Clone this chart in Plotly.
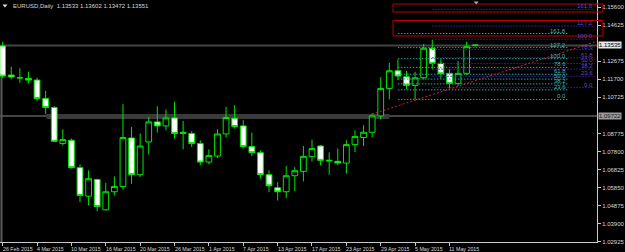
import datetime as dt
import plotly.graph_objects as go

# ---------------- data ----------------
dates = [
    "2015-02-26", "2015-02-27",
    "2015-03-02", "2015-03-03", "2015-03-04", "2015-03-05", "2015-03-06",
    "2015-03-09", "2015-03-10", "2015-03-11", "2015-03-12", "2015-03-13",
    "2015-03-16", "2015-03-17", "2015-03-18", "2015-03-19", "2015-03-20",
    "2015-03-23", "2015-03-24", "2015-03-25", "2015-03-26", "2015-03-27",
    "2015-03-30", "2015-03-31", "2015-04-01", "2015-04-02", "2015-04-03",
    "2015-04-06", "2015-04-07", "2015-04-08", "2015-04-09", "2015-04-10",
    "2015-04-13", "2015-04-14", "2015-04-15", "2015-04-16", "2015-04-17",
    "2015-04-20", "2015-04-21", "2015-04-22", "2015-04-23", "2015-04-24",
    "2015-04-27", "2015-04-28", "2015-04-29", "2015-04-30", "2015-05-01",
    "2015-05-04", "2015-05-05", "2015-05-06", "2015-05-07", "2015-05-08",
    "2015-05-11", "2015-05-12", "2015-05-13", "2015-05-14",
]

opens = [1.13507, 1.11933, 1.11775, 1.11753, 1.11661, 1.10667, 1.10179, 1.08224,
         1.08403, 1.06921, 1.05379, 1.06285, 1.04640, 1.05618, 1.05905, 1.08528,
         1.06541, 1.08311, 1.09397, 1.09180, 1.09614, 1.08767, 1.08767, 1.08224,
         1.07225, 1.07551, 1.08745, 1.09598, 1.09180, 1.08061, 1.07735, 1.06541,
         1.05835, 1.05618, 1.06486, 1.06720, 1.07518, 1.08094, 1.07279, 1.07263,
         1.07170, 1.08170, 1.08550, 1.08837, 1.09723, 1.11210, 1.12166, 1.11840,
         1.11373, 1.11786, 1.13382, 1.12568, 1.12025, 1.11482, 1.12025, 1.13533]
highs = [1.13725, 1.12383, 1.12296, 1.12112, 1.11786, 1.11080, 1.10249, 1.09000,
         1.08495, 1.07100, 1.06774, 1.06323, 1.06106, 1.06448, 1.10358, 1.09125,
         1.08767, 1.09668, 1.10249, 1.10070, 1.10483, 1.09451, 1.08892, 1.08403,
         1.07914, 1.09000, 1.10211, 1.10304, 1.09489, 1.08821, 1.07860, 1.06774,
         1.06139, 1.07008, 1.06953, 1.08094, 1.08441, 1.08148, 1.07751, 1.07952,
         1.08403, 1.08946, 1.09218, 1.09853, 1.11824, 1.12600, 1.12785, 1.12150,
         1.12112, 1.13616, 1.13833, 1.12785, 1.12242, 1.12693, 1.13741, 1.13602]
lows = [1.11770, 1.11699, 1.11514, 1.11482, 1.10537, 1.09815, 1.08311, 1.08132,
        1.06866, 1.05053, 1.04874, 1.04564, 1.04602, 1.05417, 1.05726, 1.06052,
        1.06410, 1.07627, 1.08821, 1.08946, 1.08495, 1.07914, 1.08039, 1.07046,
        1.07100, 1.07442, 1.08550, 1.09038, 1.07952, 1.07551, 1.06323, 1.05596,
        1.05145, 1.05270, 1.05650, 1.06177, 1.07263, 1.07046, 1.06541, 1.07046,
        1.06595, 1.07768, 1.08094, 1.08550, 1.09527, 1.10613, 1.11661, 1.11172,
        1.10613, 1.11699, 1.12242, 1.11753, 1.11210, 1.11352, 1.11933, 1.13472]
closes = [1.11878, 1.11824, 1.11785, 1.11661, 1.10667, 1.10179, 1.08349, 1.08441,
          1.06921, 1.05417, 1.06323, 1.04819, 1.05618, 1.05905, 1.08550, 1.06541,
          1.08094, 1.09397, 1.09180, 1.09614, 1.08767, 1.08837, 1.08224, 1.07225,
          1.07572, 1.08745, 1.09636, 1.09147, 1.08061, 1.07735, 1.06541, 1.05943,
          1.05618, 1.06486, 1.06758, 1.07534, 1.07952, 1.07317, 1.07317, 1.07170,
          1.08170, 1.08604, 1.08837, 1.09723, 1.11210, 1.12166, 1.11878, 1.11373,
          1.11786, 1.13382, 1.12568, 1.12003, 1.11482, 1.12025, 1.13469, 1.13551]

symbol = "EURUSD,Daily"
price_ticks = [1.15600, 1.14625, 1.12675, 1.11700, 1.10725, 1.08775, 1.07800,
               1.06825, 1.05850, 1.04875, 1.03900, 1.02925]
date_tick_idx = [0, 4, 8, 12, 16, 20, 24, 28, 32, 36, 40, 44, 48, 52]

fib_levels = [0.0, 23.6, 38.2, 50.0, 61.8, 78.6, 100.0, 127.2, 161.8]
fib_teal_prices = [1.10613, 1.12818]      # 0% and 100% anchors
fib_teal_span = [46, 65.8]                # bar index start/end
fib_purple_prices = [1.11250, 1.13870]
fib_purple_span = [50, 68.9]

hline_prices = [1.13535, 1.09722]
hline_labels = ["1.13535", "1.09722"]
band_prices = [1.09555, 1.09825]
band_span = [5.1, 45.0]
trend_pts = [(43, 1.09820), (54, 1.11476)]

# ---------------- geometry ----------------
W, H = 625, 252
PL, PR, PT, PB = 0, 603, 0, 242          # plot area in pixels
x_range = [-0.311, 69.17]
y_range = [1.02899, 1.15994]

def pxx(x):
    return (x - PL) / (PR - PL)

def pxy(y):
    return 1 - (y - PT) / (PB - PT)

FONT = "Liberation Sans"
FS = 6
FS_DATE = 5.3
TXT = "#d8d8d8"
GREEN = "#00e600"

xs = list(range(len(dates)))
fig = go.Figure()

fig.add_trace(go.Candlestick(
    x=xs, open=opens, high=highs, low=lows, close=closes,
    increasing=dict(line=dict(color=GREEN, width=1), fillcolor="#000000"),
    decreasing=dict(line=dict(color=GREEN, width=1), fillcolor="#ffffff"),
    whiskerwidth=0, hoverinfo="skip", showlegend=False,
))

shapes = []
annotations = []

# grey horizontal lines
for p in hline_prices:
    shapes.append(dict(type="line", xref="paper", yref="y", x0=0, x1=1, y0=p, y1=p,
                       line=dict(color="#444444", width=2), layer="below"))
shapes.append(dict(type="rect", xref="x", yref="y", x0=band_span[0], x1=band_span[1],
                   y0=band_prices[0], y1=band_prices[1], fillcolor="#3a3a3a",
                   line=dict(width=0), layer="below"))
# left frame line
shapes.append(dict(type="line", xref="paper", yref="paper", x0=pxx(1.5), x1=pxx(1.5),
                   y0=pxy(46), y1=0, line=dict(color="#5a5a5a", width=2), layer="below"))

# fibonacci levels
def add_fib(prices, span, line_col, txt_col):
    p0, p100 = prices
    for lv in fib_levels:
        p = p0 + (p100 - p0) * lv / 100.0
        fig.add_trace(go.Scatter(x=[span[0], span[1]], y=[p, p], mode="lines",
                                 line=dict(color=line_col, width=1, dash="1.5px,1.5px"),
                                 hoverinfo="skip", showlegend=False))
        annotations.append(dict(x=span[1], y=p, xref="x", yref="y", text=f"{lv:.1f}",
                                showarrow=False, xanchor="right", yanchor="bottom",
                                yshift=-2, font=dict(family=FONT, size=FS, color=txt_col)))

add_fib(fib_purple_prices, fib_purple_span, "#4b1fa0", "#6a46c0")
add_fib(fib_teal_prices, fib_teal_span, "#23a3a8", "#3fb8bc")

# red trend line (ray)
(tx0, ty0), (tx1, ty1) = trend_pts
slope = (ty1 - ty0) / (tx1 - tx0)
tx_end = x_range[1] + 1
fig.add_trace(go.Scatter(x=[tx0, tx_end], y=[ty0, ty0 + slope * (tx_end - tx0)], mode="lines",
                         line=dict(color="#d0203a", width=1, dash="2px,2px"),
                         hoverinfo="skip", showlegend=False))

# red annotation boxes
for (ya, yb) in [(4, 12), (20.5, 36)]:
    shapes.append(dict(type="rect", xref="paper", yref="paper", x0=pxx(397), x1=pxx(609),
                       y0=pxy(yb), y1=pxy(ya), line=dict(color="#c00000", width=1),
                       fillcolor="rgba(0,0,0,0)"))

# small triangles (title marker & shift marker)
def tri(xc, yc, w, h, col):
    x0, x1 = pxx(xc - w / 2), pxx(xc + w / 2)
    ya, yb = pxy(yc - h / 2), pxy(yc + h / 2)
    return dict(type="path", xref="paper", yref="paper",
                path=f"M {x0},{ya} L {x1},{ya} L {pxx(xc)},{yb} Z",
                fillcolor=col, line=dict(width=0))
shapes.append(tri(5, 6, 5, 3, "#e0e0e0"))
shapes.append(tri(481, 3, 5, 3, "#a8a8a8"))

# title
last = len(dates) - 1
title = f"{symbol}  {opens[last]:.5f} {highs[last]:.5f} {lows[last]:.5f} {closes[last]:.5f}"
annotations.append(dict(x=pxx(11), y=pxy(6.5), xref="paper", yref="paper", text=title,
                        showarrow=False, xanchor="left", yanchor="middle",
                        font=dict(family=FONT, size=FS, color=TXT)))

# date labels (left aligned at tick)
for i in date_tick_idx:
    d = dt.date.fromisoformat(dates[i])
    lab = f"{d.day} {d.strftime('%b')} {d.year}"
    annotations.append(dict(x=i, y=pxy(248.5), xref="x", yref="paper", text=lab,
                            showarrow=False, xanchor="left", yanchor="middle", xshift=-2,
                            font=dict(family=FONT, size=FS_DATE, color=TXT)))

# highlighted price labels
for p, lab, bg, fg in zip(hline_prices, hline_labels, ["#e6e6e6", "#9a9a9a"], ["#000000", "#202020"]):
    annotations.append(dict(x=1, y=p, xref="paper", yref="y", text=lab, showarrow=False,
                            xanchor="left", yanchor="middle", xshift=1, bgcolor=bg,
                            borderpad=0, font=dict(family=FONT, size=FS, color=fg)))

fig.update_layout(
    width=W, height=H,
    margin=dict(l=PL, r=W - PR, t=PT, b=H - PB, pad=0),
    paper_bgcolor="#000000", plot_bgcolor="#000000",
    showlegend=False, hovermode=False,
    shapes=shapes, annotations=annotations,
    boxgap=0.33, boxgroupgap=0.0,
    xaxis=dict(range=x_range, showgrid=False, zeroline=False, rangeslider=dict(visible=False),
               tickvals=date_tick_idx, showticklabels=False, ticks="outside", ticklen=3,
               tickcolor="#c8c8c8", showline=True, linecolor="#c8c8c8", linewidth=1,
               fixedrange=True),
    yaxis=dict(range=y_range, side="right", showgrid=False, zeroline=False,
               tickvals=price_ticks, ticktext=[f"{v:.5f}" for v in price_ticks],
               ticks="outside", ticklen=3, tickcolor="#c8c8c8",
               tickfont=dict(family=FONT, size=FS, color=TXT),
               showline=True, linecolor="#c8c8c8", linewidth=1, fixedrange=True),
)

fig.write_html("out.html")
